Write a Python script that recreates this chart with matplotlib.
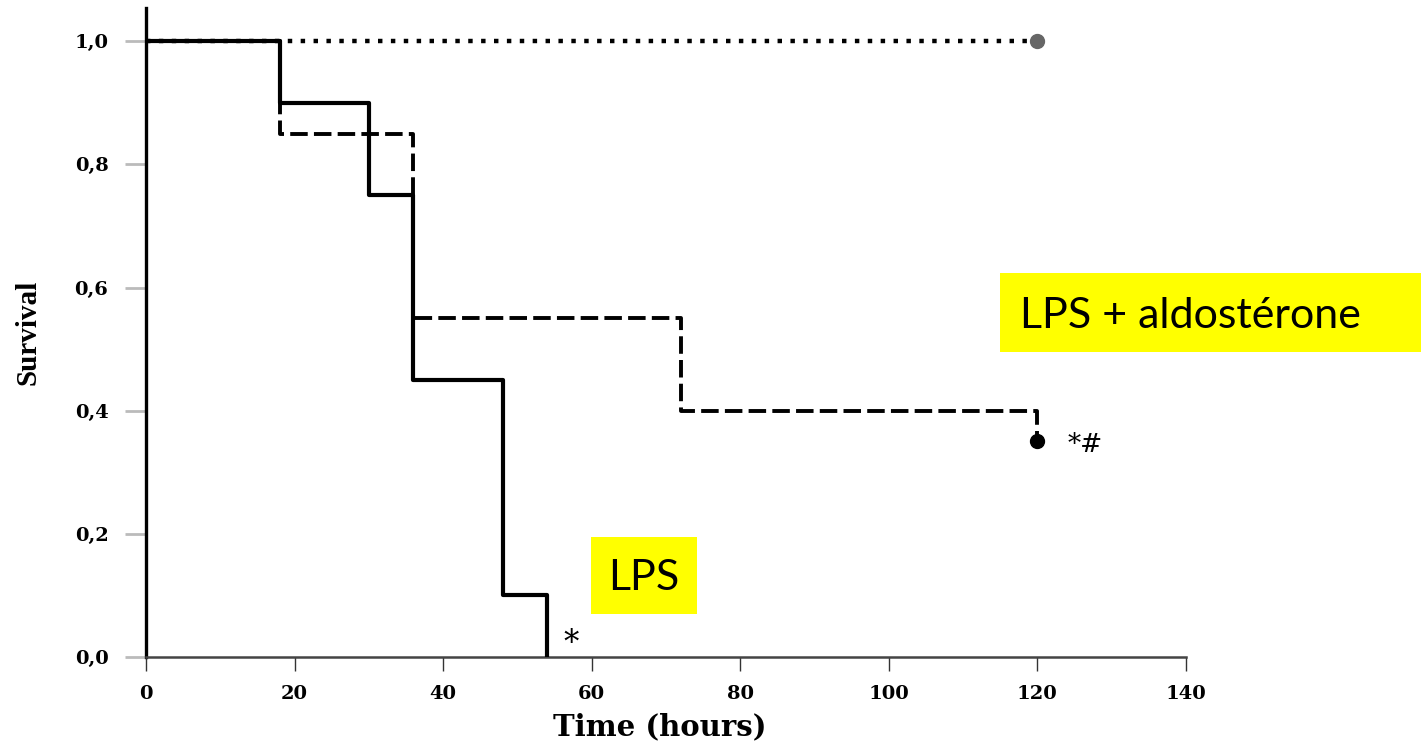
import matplotlib.pyplot as plt
from matplotlib.patches import Rectangle

# Kaplan-Meier style survival data (time in hours, survival fraction)
lps_time = [0, 18, 30, 36, 48, 54]
lps_surv = [1.0, 0.9, 0.75, 0.45, 0.1, 0.0]

aldo_time = [0, 18, 36, 72, 120]
aldo_surv = [1.0, 0.85, 0.55, 0.40, 0.35]

ctrl_time = [0, 120]
ctrl_surv = [1.0, 1.0]

x_ticks = [0, 20, 40, 60, 80, 100, 120, 140]
y_ticks = [0.0, 0.2, 0.4, 0.6, 0.8, 1.0]
y_tick_labels = ["0,0", "0,2", "0,4", "0,6", "0,8", "1,0"]

fig = plt.figure(figsize=(14.21, 7.41), dpi=100)
ax = fig.add_axes([0.1027, 0.1134, 0.7319, 0.8758])

# curves
ax.step(aldo_time, aldo_surv, where="post", color="black", lw=2.8,
        linestyle=(0, (4.5, 1.6)), zorder=2)
ax.plot(aldo_time[-1], aldo_surv[-1], "o", color="black", ms=10, zorder=3)
ax.step(lps_time, lps_surv, where="post", color="black", lw=3, zorder=3)
ax.step(ctrl_time, ctrl_surv, where="post", color="black", lw=3.2,
        linestyle=(0, (1.0, 1.9)), zorder=4)
ax.plot(ctrl_time[-1], ctrl_surv[-1], "o", color="#666666", ms=10, zorder=5)

# significance marks
ax.text(57.3, 0.022, "*", fontsize=22, family="DejaVu Serif",
        ha="center", va="center")
ax.text(126.5, 0.345, "*#", fontsize=19, family="DejaVu Serif",
        ha="center", va="center")

ax.set_xlim(0, 140)
ax.set_ylim(0, 1.054)

for side in ["top", "right"]:
    ax.spines[side].set_visible(False)
ax.spines["left"].set_linewidth(2.4)
ax.spines["left"].set_color("black")
ax.spines["bottom"].set_linewidth(1.8)
ax.spines["bottom"].set_color("#444444")

ax.set_xticks(x_ticks)
ax.set_xticklabels([str(t) for t in x_ticks], fontsize=14, family="DejaVu Serif", weight="bold")
ax.set_yticks(y_ticks)
ax.set_yticklabels(y_tick_labels, fontsize=14, family="DejaVu Serif", weight="bold")
ax.tick_params(axis="x", direction="out", length=10, width=1, color="#333333", pad=10)
ax.tick_params(axis="y", direction="out", length=15, width=2, color="#bbbbbb", pad=12)

fig.text(0.4644, 0.019, "Time (hours)", fontsize=21, family="DejaVu Serif", weight="bold",
         ha="center", va="center")
fig.text(0.020, 0.552, "Survival", fontsize=21, family="Liberation Serif", weight="bold",
         rotation=90, ha="center", va="center")

# yellow annotation boxes
fig.patches.append(Rectangle((0.7037, 0.525), 0.2963, 0.1066, transform=fig.transFigure,
                             facecolor="#FFFF00", edgecolor="none", zorder=0))
fig.text(0.7178, 0.574, "LPS + aldostérone", fontsize=31, family="Lato",
         ha="left", va="center")
fig.patches.append(Rectangle((0.4159, 0.1714), 0.0746, 0.1039, transform=fig.transFigure,
                             facecolor="#FFFF00", edgecolor="none", zorder=0))
fig.text(0.4532, 0.220, "LPS", fontsize=31, family="Lato", ha="center", va="center")

fig.savefig("out.png", dpi=100)
